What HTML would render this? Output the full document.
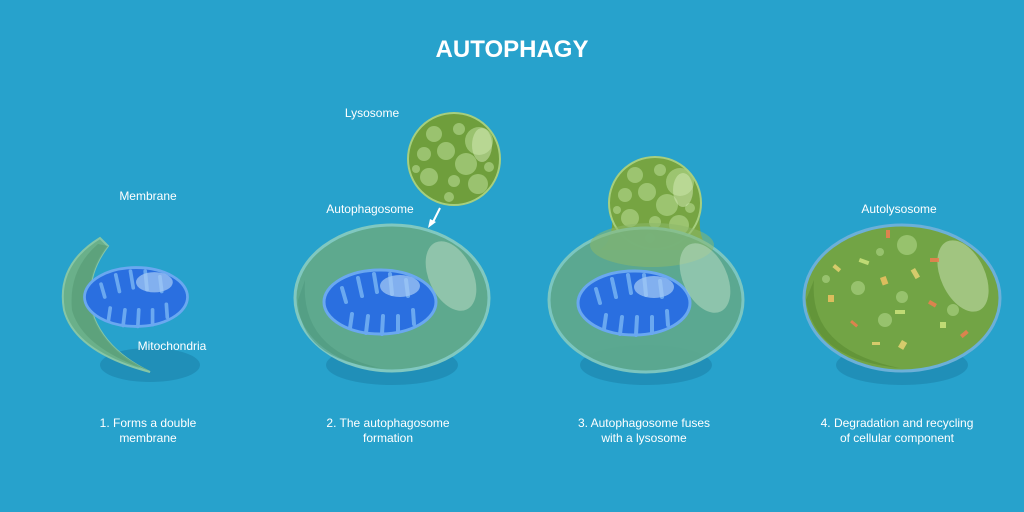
<!DOCTYPE html>
<html><head><meta charset="utf-8"><style>
html,body{margin:0;padding:0;background:#27a2cc;}
svg{display:block;font-family:"Liberation Sans",sans-serif;}
</style></head><body>
<svg width="1024" height="512" viewBox="0 0 1024 512">
<defs>
<g id="mito">
  <ellipse cx="0" cy="0" rx="56" ry="32" fill="#2a6fe0" stroke="#6aa8f0" stroke-width="3"/>
  <g stroke="#6aa8f0" stroke-width="4" stroke-linecap="round" fill="none">
    <path d="M-38,-14 L-34,0"/><path d="M-22,-24 L-18,-6"/><path d="M-6,-28 L-3,-10"/><path d="M10,-28 L12,-8"/><path d="M26,-22 L28,-6"/>
    <path d="M-30,26 L-28,12"/><path d="M-14,31 L-12,14"/><path d="M2,32 L3,14"/><path d="M18,30 L18,14"/><path d="M34,22 L33,8"/>
  </g>
  <ellipse cx="20" cy="-16" rx="20" ry="11" fill="#a8ccf5" opacity="0.7"/>
</g>
<g id="spots" fill="#a9cf80" opacity="0.75">
  <circle cx="-20" cy="-25" r="8"/><circle cx="5" cy="-30" r="6"/><circle cx="25" cy="-18" r="14"/><circle cx="-30" cy="-5" r="7"/>
  <circle cx="-8" cy="-8" r="9"/><circle cx="12" cy="5" r="11"/><circle cx="-25" cy="18" r="9"/><circle cx="0" cy="22" r="6"/>
  <circle cx="24" cy="25" r="10"/><circle cx="-5" cy="38" r="5"/><circle cx="35" cy="8" r="5"/><circle cx="-38" cy="10" r="4"/>
</g>
</defs>

<text x="512" y="57" text-anchor="middle" font-size="24" font-weight="bold" fill="#fff">AUTOPHAGY</text>

<!-- shadows -->
<g fill="#1f8bb3" opacity="0.8">
<ellipse cx="150" cy="365" rx="50" ry="17"/>
<ellipse cx="392" cy="365" rx="66" ry="20"/>
<ellipse cx="646" cy="365" rx="66" ry="20"/>
<ellipse cx="902" cy="365" rx="66" ry="20"/>
</g>

<!-- Stage 1 -->
<path d="M100,238 Q56,265 64,310 Q75,352 150,372 Q108,352 94,318 Q82,280 108,246 Z" fill="#6ab08a" stroke="#86c6a6" stroke-width="2"/>
<path d="M98,244 Q68,270 72,310 Q82,348 150,371 Q108,352 94,318 Q82,280 108,246 Z" fill="#5a9f78" opacity="0.8"/>
<use href="#mito" transform="translate(136,297) scale(0.92)"/>
<text x="148" y="200" text-anchor="middle" font-size="12" fill="#fff">Membrane</text>
<text x="172" y="350" text-anchor="middle" font-size="12" fill="#fff">Mitochondria</text>

<!-- Stage 2 -->
<text x="372" y="117" text-anchor="middle" font-size="12" fill="#fff">Lysosome</text>
<circle cx="454" cy="159" r="46" fill="#6f9e3c" stroke="#a6cf7e" stroke-width="2"/>
<use href="#spots" transform="translate(454,159)"/>
<ellipse cx="482" cy="145" rx="10" ry="17" fill="#d6ebb8" opacity="0.5"/>
<text x="370" y="213" text-anchor="middle" font-size="12" fill="#fff">Autophagosome</text>
<path d="M440,208 L432,224" stroke="#fff" stroke-width="2"/>
<path d="M428,228 L430,219 L436,222 Z" fill="#fff"/>
<ellipse cx="392" cy="298" rx="97" ry="73" fill="#5ea98e" stroke="#80c8c0" stroke-width="3"/>
<path d="M305,280 Q300,350 380,368 Q300,360 298,300 Z" fill="#4e9a7e" opacity="0.6"/>
<use href="#mito" transform="translate(380,302)"/>
<ellipse cx="451" cy="276" rx="22" ry="37" transform="rotate(-25 451 276)" fill="#bfe0c8" opacity="0.5"/>

<!-- Stage 3 -->
<path d="M612,215 Q614,240 600,250 L710,250 Q698,240 700,215 Z" fill="#76a442"/>
<circle cx="655" cy="203" r="46" fill="#76a442" stroke="#a6cf7e" stroke-width="2"/>
<use href="#spots" transform="translate(655,200)"/>
<ellipse cx="683" cy="190" rx="10" ry="17" fill="#d6ebb8" opacity="0.5"/>
<ellipse cx="646" cy="300" rx="97" ry="72" fill="#5ea98e" stroke="#80c8c0" stroke-width="3" opacity="0.95"/>
<ellipse cx="652" cy="245" rx="62" ry="22" fill="#8cb86a" opacity="0.55"/>
<use href="#mito" transform="translate(634,303)"/>
<ellipse cx="705" cy="278" rx="22" ry="37" transform="rotate(-25 705 278)" fill="#bfe0c8" opacity="0.5"/>

<!-- Stage 4 -->
<text x="899" y="213" text-anchor="middle" font-size="12" fill="#fff">Autolysosome</text>
<ellipse cx="902" cy="298" rx="98" ry="73" fill="#72a445" stroke="#6cb0d8" stroke-width="3"/>
<path d="M814,280 Q808,350 900,368 Q815,360 806,300 Z" fill="#5c8f34" opacity="0.7"/>
<g fill="#a7cf7f" opacity="0.7">
<circle cx="907" cy="245" r="10"/><circle cx="858" cy="288" r="7"/><circle cx="902" cy="297" r="6"/><circle cx="885" cy="320" r="7"/><circle cx="953" cy="310" r="6"/><circle cx="826" cy="279" r="4"/><circle cx="880" cy="252" r="4"/>
</g>
<ellipse cx="963" cy="276" rx="22" ry="38" transform="rotate(-25 963 276)" fill="#c8e0b0" opacity="0.55"/>
<g opacity="0.9">
<rect x="860" y="258" width="10" height="4" fill="#c8e07a" transform="rotate(20 860 258)"/>
<rect x="835" y="264" width="8" height="4" fill="#e0d070" transform="rotate(40 835 264)"/>
<rect x="915" y="268" width="10" height="5" fill="#e0d070" transform="rotate(60 915 268)"/>
<rect x="880" y="278" width="6" height="8" fill="#e8c060" transform="rotate(-20 880 278)"/>
<rect x="930" y="300" width="8" height="4" fill="#e88050" transform="rotate(30 930 300)"/>
<rect x="895" y="310" width="10" height="4" fill="#c8e07a"/>
<rect x="852" y="320" width="8" height="3" fill="#e88050" transform="rotate(40 852 320)"/>
<rect x="902" y="340" width="6" height="8" fill="#e0d070" transform="rotate(30 902 340)"/>
<rect x="960" y="335" width="8" height="4" fill="#e88050" transform="rotate(-40 960 335)"/>
<rect x="930" y="258" width="9" height="4" fill="#e88050"/>
<rect x="828" y="295" width="6" height="7" fill="#e8c060"/>
<rect x="940" y="322" width="6" height="6" fill="#c8e07a"/>
<rect x="872" y="342" width="8" height="3" fill="#e0d070"/>
<rect x="886" y="230" width="4" height="8" fill="#e88050"/>
</g>

<!-- captions -->
<g font-size="12" fill="#fff" text-anchor="middle">
<text x="148" y="427">1. Forms a double</text><text x="148" y="442">membrane</text>
<text x="388" y="427">2. The autophagosome</text><text x="388" y="442">formation</text>
<text x="644" y="427">3. Autophagosome  fuses</text><text x="644" y="442">with a lysosome</text>
<text x="897" y="427">4. Degradation and recycling</text><text x="897" y="442">of cellular component</text>
</g>
</svg>
</body></html>
